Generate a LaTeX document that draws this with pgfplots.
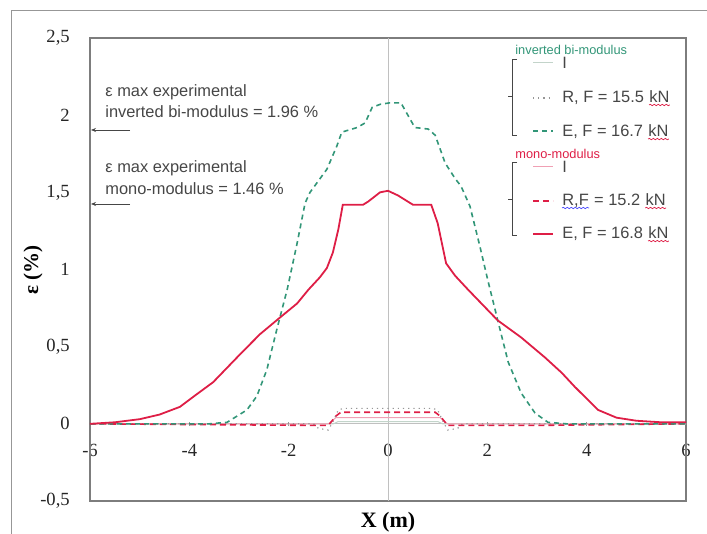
\documentclass[border=0pt]{standalone}
\usepackage{pgfplots}
\pgfplotsset{compat=1.18}
\usepackage{fontspec}
\setmainfont{Liberation Serif}
\newfontfamily\arial{Liberation Sans}
\usetikzlibrary{decorations.pathmorphing,arrows.meta}

\definecolor{cRed}{RGB}{222,30,70}
\definecolor{cGreen}{RGB}{50,150,120}
\definecolor{cGray}{RGB}{150,150,150}
\definecolor{cPink}{RGB}{240,160,180}
\definecolor{cLight}{RGB}{195,212,202}
\definecolor{cFrame}{RGB}{125,125,125}
\definecolor{cText}{RGB}{70,70,70}

\begin{document}
\begin{tikzpicture}
\useasboundingbox (0,0) rectangle (353.5pt,267pt);

\begin{axis}[
    at={(45pt,16.5pt)}, anchor=south west,
    scale only axis, width=298pt, height=231.5pt,
    xmin=-6, xmax=6, ymin=-0.5, ymax=2.5,
    axis x line=middle, axis y line=left,
    x axis line style={-, cGray!60, line width=0.4pt},
    y axis line style={-, cFrame, line width=0.6pt},
    hide obscured x ticks=false, hide obscured y ticks=false,
    xtick={-6,-4,-2,0,2,4,6},
    ytick={-0.5,0,0.5,1,1.5,2,2.5},
    major tick length=2pt,
    tick style={cGray, line width=0.4pt},
    ytick style={draw=none},
    /pgf/number format/use comma,
    /pgf/number format/assume math mode=true,
    tick label style={font=\fontsize{9.3}{11}\selectfont, text=black!85},
    xticklabel style={yshift=-5.6pt},
    yticklabel style={xshift=-5.6pt},
    clip=false,
]
\draw[cFrame, line width=0.6pt] (rel axis cs:0,0) rectangle (rel axis cs:1,1);
\draw[cGray!60, line width=0.4pt] (axis cs:0,-0.5) -- (axis cs:0,2.5);

% I, inverted bi-modulus
\addplot[cLight, line width=0.5pt] coordinates {
(-6,0) (-1.1,0) (-1.0,0.015) (1.0,0.015) (1.1,0) (6,0)};
% I, mono-modulus
\addplot[cPink, line width=0.5pt] coordinates {
(-6,0) (-1.2,0) (-1.05,0.04) (1.05,0.04) (1.2,0) (6,0)};
% R, inverted bi-modulus, F = 15.5 kN
\addplot[cGray, line width=0.6pt, dotted] coordinates {
(-6,0) (-1.5,0) (-1.4,-0.03) (-1.2,-0.04) (-1.1,0.02) (-1.0,0.09) (-0.9,0.10)
(0.9,0.10) (1.0,0.09) (1.1,0.02) (1.2,-0.04) (1.4,-0.03) (1.5,0) (6,0)};
% R, mono-modulus, F = 15.2 kN
\addplot[cRed, line width=0.8pt, dash pattern=on 3pt off 2pt] coordinates {
(-6,0) (-1.5,-0.01) (-1.2,-0.01) (-1.05,0.05) (-0.95,0.075) (0.95,0.075)
(1.05,0.05) (1.2,-0.01) (3,-0.01) (6,0)};
% E, inverted bi-modulus, F = 16.7 kN
\addplot[cGreen, line width=0.8pt, dash pattern=on 2.5pt off 2pt] coordinates {
(-6,0) (-3.6,0) (-3.24,0.01) (-2.84,0.09) (-2.64,0.18) (-2.44,0.35) (-2.24,0.61)
(-2.03,0.87) (-1.83,1.17) (-1.67,1.43) (-1.57,1.50) (-1.23,1.65) (-1.03,1.80)
(-0.93,1.89) (-0.62,1.92) (-0.46,1.95) (-0.32,2.05) (-0.16,2.07) (0.04,2.08)
(0.26,2.08) (0.54,1.92) (0.81,1.91) (0.95,1.87) (1.15,1.69) (1.35,1.59)
(1.47,1.54) (1.65,1.41) (1.85,1.15) (2.01,0.93) (2.21,0.67) (2.42,0.40)
(2.68,0.20) (2.96,0.07) (3.22,0.01) (3.6,0) (6,0)};
% E, mono-modulus, F = 16.8 kN
\addplot[cRed, line width=0.9pt] coordinates {
(-6,0.0) (-5.5,0.01) (-5,0.03) (-4.6,0.06) (-4.19,0.11) (-3.9,0.18) (-3.52,0.27)
(-3.25,0.36) (-2.98,0.45) (-2.58,0.58) (-2.17,0.69) (-1.83,0.78) (-1.6,0.87)
(-1.37,0.95) (-1.23,1.01) (-1.11,1.11) (-1.0,1.26) (-0.91,1.42) (-0.5,1.42)
(-0.4,1.44) (-0.16,1.50) (0,1.51) (0.2,1.48) (0.5,1.42) (0.87,1.42) (1.0,1.30)
(1.17,1.04) (1.35,0.96) (1.61,0.87) (2.21,0.67) (2.68,0.56) (3.16,0.43)
(3.5,0.33) (3.76,0.24) (4.23,0.09) (4.6,0.04) (5,0.02) (5.5,0.01) (6,0.01)};
\end{axis}

% overlay in image pixels (origin top left, y down)
\begin{scope}[shift={(0pt,267pt)}, x=0.5pt, y=-0.5pt]
% outer frame
\draw[cFrame!80, line width=0.5pt] (11,534) -- (11,11) -- (707,11);

% axis labels
\node[rotate=90, font=\fontsize{10.5}{12}\selectfont\bfseries] at (33,270) {ε (\%)};
\node[font=\fontsize{11}{13}\selectfont\bfseries] at (388,522) {X (m)};

% experimental maxima
\begin{scope}[font=\arial\fontsize{8.2}{9.5}\selectfont, text=cText]
\node[anchor=west, inner sep=0] at (105,92) {ε max experimental};
\node[anchor=west, inner sep=0] at (105,112) {inverted bi-modulus = 1.96 \%};
\node[anchor=west, inner sep=0] at (105,168) {ε max experimental};
\node[anchor=west, inner sep=0] at (105,189) {mono-modulus = 1.46 \%};
\end{scope}
\draw[cText, line width=0.4pt, -{Stealth[length=2.5pt,width=2pt]}] (130,130) -- (91,130);
\draw[cText, line width=0.4pt, -{Stealth[length=2.5pt,width=2pt]}] (130,204) -- (91,204);

% legend
\begin{scope}[font=\arial\fontsize{8.2}{9.5}\selectfont, text=cText,
              squig/.style={decorate, decoration={snake, amplitude=0.35pt, segment length=2pt}, line width=0.35pt}]
\node[anchor=west, inner sep=0, text=cGreen, font=\arial\fontsize{6.4}{7}\selectfont] at (515,50) {inverted bi-modulus};
\draw[cText, line width=0.5pt] (517,60) -- (512,60) -- (512,136) -- (517,136);
\draw[cText, line width=0.5pt] (512,97) -- (508,97);
\draw[cLight, line width=0.5pt] (533,63) -- (553,63);
\node[anchor=west, inner sep=0] at (562,63) {I};
\draw[cGray, line width=0.6pt, dotted] (533,98) -- (553,98);
\node[anchor=west, inner sep=0] (a1) at (562,98) {R, F = 15.5};
\node[anchor=base west, inner sep=0] (a2) at ([xshift=2.3pt]a1.base east) {kN};
\draw[cRed, squig] ([yshift=-1.2pt]a2.base west) -- ([yshift=-1.2pt]a2.base east);
\draw[cGreen, line width=0.8pt, dash pattern=on 2.5pt off 2pt] (533,131) -- (553,131);
\node[anchor=west, inner sep=0] (b1) at (562,132) {E, F = 16.7};
\node[anchor=base west, inner sep=0] (b2) at ([xshift=2.3pt]b1.base east) {kN};
\draw[cRed, squig] ([yshift=-1.2pt]b2.base west) -- ([yshift=-1.2pt]b2.base east);

\node[anchor=west, inner sep=0, text=cRed, font=\arial\fontsize{6.4}{7}\selectfont] at (515,154) {mono-modulus};
\draw[cText, line width=0.5pt] (517,163) -- (512,163) -- (512,236) -- (517,236);
\draw[cText, line width=0.5pt] (512,200) -- (508,200);
\draw[cPink, line width=0.5pt] (533,167) -- (553,167);
\node[anchor=west, inner sep=0] at (562,167) {I};
\draw[cRed, line width=0.8pt, dash pattern=on 3pt off 2pt] (533,201) -- (553,201);
\node[anchor=west, inner sep=0] (c0) at (562,201) {R,F};
\node[anchor=base west, inner sep=0] (c1) at (c0.base east) {\ = 15.2};
\node[anchor=base west, inner sep=0] (c2) at ([xshift=2.3pt]c1.base east) {kN};
\draw[blue!70, squig] ([yshift=-1.2pt]c0.base west) -- ([yshift=-1.2pt]c0.base east);
\draw[cRed, squig] ([yshift=-1.2pt]c2.base west) -- ([yshift=-1.2pt]c2.base east);
\draw[cRed, line width=0.9pt] (533,234) -- (553,234);
\node[anchor=west, inner sep=0] (d1) at (562,234) {E, F = 16.8};
\node[anchor=base west, inner sep=0] (d2) at ([xshift=2.3pt]d1.base east) {kN};
\draw[cRed, squig] ([yshift=-1.2pt]d2.base west) -- ([yshift=-1.2pt]d2.base east);
\end{scope}
\end{scope}
\end{tikzpicture}
\end{document}
